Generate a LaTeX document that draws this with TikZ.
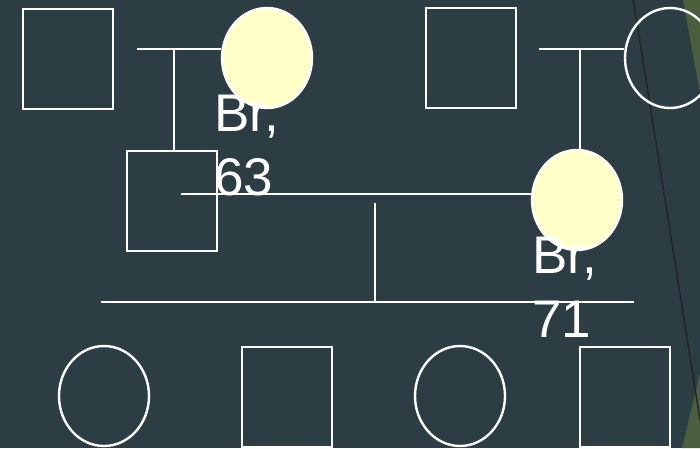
\documentclass[tikz,border=0pt]{standalone}
\usepackage{fontspec}
\setmainfont{Liberation Sans}
\usetikzlibrary{shapes.geometric}
\definecolor{bg}{HTML}{2D3D44}
\definecolor{leaf}{HTML}{4B5E3E}
\definecolor{pale}{HTML}{FFFFC8}
\tikzset{
  male/.style={draw=white, line width=2.4pt, rectangle, minimum width=90pt, minimum height=100pt, inner sep=0pt},
  female/.style={draw=white, line width=2.4pt, ellipse, minimum width=90pt, minimum height=100pt, inner sep=0pt},
  affected/.style={female, fill=pale},
  link/.style={draw=white, line width=2.4pt},
  lbl/.style={text=white, font=\fontsize{53}{64}\selectfont, align=left, anchor=north west, inner sep=0pt}
}
\begin{document}
\begin{tikzpicture}[x=1pt,y=-1pt]
\useasboundingbox (0,0) rectangle (700,448);
\clip (0,0) rectangle (700,448);
\fill[bg] (0,0) rectangle (700,448);
\fill[leaf] (683,0) -- (700,0) -- (700,93) -- cycle;
\fill[leaf] (700,373) -- (700,448) -- (682,448) -- cycle;
\draw[black!85, line width=1.5pt] (633,-2) -- (700,420);
% generation I
\node[male] (gf1) at (68,59) {};
\node[affected] (gm1) at (267,58) {};
\node[male] (gf2) at (471,58) {};
\node[female] (gm2) at (670,58) {};
% generation II
\node[male] (f) at (172,201) {};
\node[affected] (m) at (577,200) {};
% generation III
\node[female] (k1) at (104,396) {};
\node[male] (k2) at (287,397) {};
\node[female] (k3) at (460,396) {};
\node[male] (k4) at (625,397) {};
% coordinates for lines
\coordinate (p1) at (137,49);
\coordinate (v1) at (174,49);
\coordinate (p2) at (539,49);
\coordinate (v2) at (580,49);
\coordinate (p3) at (181,194);
\coordinate (v3) at (375,203);
\coordinate (s1) at (101,302);
\coordinate (s2) at (634,302);
\draw[link] (p1) -- (p1 -| gm1.west);
\draw[link] (v1) -- (v1 |- f.north);
\draw[link] (p2) -- (p2 -| gm2.west);
\draw[link] (v2) -- (v2 |- m.north);
\draw[link] (p3) -- (p3 -| m.west);
\draw[link] (v3) -- (v3 |- s1);
\draw[link] (s1) -- (s2);
% labels
\node[lbl] (t1) at (214,95) {Br,\\63};
\node[lbl] (t2) at (532,237) {Br,\\71};
\end{tikzpicture}
\end{document}
